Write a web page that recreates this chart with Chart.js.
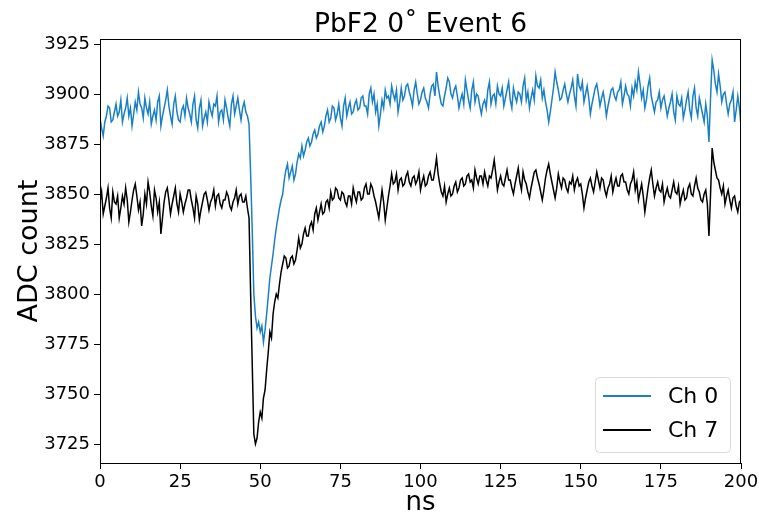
<!DOCTYPE html>
<html>
<head>
<meta charset="utf-8">
<script src="https://cdn.jsdelivr.net/npm/chart.js@4"></script>
<style>
  html, body { margin: 0; padding: 0; background: #fff; }
  #wrap { width: 759px; height: 516px; }
</style>
</head>
<body>
<div id="wrap"><canvas id="chart"></canvas></div>
<script>
// sample times, ns (0.5 ns steps)
var ns = Array.from({length: 401}, function (_, i) { return i / 2; });

// ADC counts, 10 samples (5 ns) per row
var ch0 = [
  3888,3883,3879,3886,3889,3894,3893,3886,3887,3891,
  3895,3889,3891,3897,3886,3890,3893,3898,3889,3893,
  3884,3890,3896,3892,3901,3895,3893,3888,3898,3893,
  3890,3896,3885,3889,3892,3887,3896,3899,3884,3889,
  3893,3897,3902,3894,3889,3885,3895,3899,3891,3887,
  3886,3892,3894,3889,3898,3893,3890,3886,3895,3899,
  3887,3883,3893,3897,3884,3888,3891,3886,3896,3892,
  3889,3895,3894,3899,3886,3891,3892,3887,3897,3893,
  3888,3884,3895,3899,3890,3894,3898,3892,3887,3893,
  3896,3891,3889,3885,3860,3832,3800,3789,3783,3786,
  3781,3784,3776,3782,3790,3799,3808,3814,3820,3827,
  3833,3838,3843,3847,3850,3857,3862,3865,3858,3861,
  3864,3857,3860,3866,3870,3868,3874,3869,3872,3876,
  3878,3874,3876,3880,3882,3878,3880,3884,3886,3881,
  3884,3889,3892,3886,3888,3894,3893,3887,3890,3895,
  3888,3884,3894,3898,3889,3893,3896,3890,3891,3895,
  3897,3892,3893,3898,3899,3894,3894,3890,3900,3903,
  3896,3900,3891,3895,3884,3890,3897,3893,3902,3898,
  3899,3895,3904,3900,3897,3902,3891,3896,3903,3897,
  3899,3904,3905,3901,3898,3894,3902,3906,3900,3895,
  3897,3901,3903,3898,3896,3893,3900,3904,3905,3899,
  3911,3904,3899,3895,3894,3899,3903,3908,3906,3900,
  3898,3902,3904,3899,3893,3897,3900,3895,3907,3902,
  3897,3893,3902,3906,3896,3900,3899,3894,3890,3895,
  3897,3893,3902,3906,3895,3899,3900,3895,3904,3900,
  3899,3903,3894,3898,3902,3906,3897,3893,3903,3899,
  3896,3901,3900,3896,3904,3908,3897,3901,3893,3898,
  3902,3897,3909,3904,3903,3907,3898,3902,3896,3892,
  3886,3891,3897,3903,3911,3906,3902,3897,3898,3902,
  3905,3900,3896,3900,3903,3907,3899,3894,3910,3904,
  3902,3906,3896,3900,3904,3898,3890,3895,3899,3903,
  3905,3900,3894,3898,3901,3896,3889,3894,3898,3902,
  3903,3899,3897,3901,3902,3906,3895,3899,3904,3900,
  3899,3894,3903,3899,3906,3902,3911,3905,3898,3902,
  3893,3897,3904,3908,3899,3895,3891,3896,3897,3901,
  3893,3897,3899,3894,3889,3893,3896,3900,3891,3887,
  3899,3895,3894,3898,3888,3892,3897,3901,3892,3888,
  3899,3903,3893,3889,3898,3894,3890,3886,3895,3889,
  3876,3898,3917,3912,3905,3901,3910,3904,3896,3900,
  3901,3895,3890,3895,3897,3901,3886,3892,3899,3893,
  3884
];

var ch7 = [
  3846,3851,3840,3844,3848,3853,3843,3838,3851,3846,
  3845,3849,3838,3843,3849,3845,3853,3847,3836,3841,
  3847,3852,3855,3849,3842,3846,3834,3840,3850,3845,
  3856,3851,3844,3839,3852,3848,3841,3846,3830,3838,
  3846,3851,3853,3847,3840,3845,3849,3853,3845,3841,
  3850,3846,3841,3845,3848,3852,3852,3847,3843,3838,
  3849,3845,3837,3842,3846,3850,3851,3847,3842,3846,
  3848,3852,3844,3849,3850,3845,3843,3847,3847,3851,
  3849,3844,3842,3846,3848,3852,3845,3849,3850,3846,
  3846,3849,3843,3838,3800,3765,3730,3725,3728,3736,
  3741,3738,3748,3752,3762,3771,3781,3778,3790,3796,
  3800,3798,3805,3811,3815,3819,3818,3813,3814,3818,
  3819,3815,3817,3822,3828,3823,3825,3830,3833,3829,
  3829,3834,3836,3832,3840,3843,3837,3841,3845,3840,
  3841,3846,3847,3843,3851,3847,3848,3853,3852,3848,
  3847,3851,3850,3846,3844,3849,3849,3845,3853,3849,
  3846,3851,3851,3847,3848,3853,3855,3850,3850,3855,
  3853,3849,3846,3842,3838,3845,3852,3846,3837,3843,
  3849,3854,3860,3855,3856,3860,3852,3857,3858,3854,
  3855,3859,3861,3856,3854,3858,3859,3855,3857,3861,
  3852,3856,3859,3854,3855,3859,3861,3857,3857,3862,
  3868,3860,3855,3851,3849,3854,3846,3850,3853,3849,
  3850,3854,3856,3851,3853,3857,3858,3854,3855,3859,
  3860,3856,3857,3853,3862,3858,3855,3859,3859,3855,
  3861,3857,3854,3859,3858,3862,3867,3860,3852,3856,
  3859,3855,3854,3858,3862,3857,3857,3853,3850,3855,
  3859,3863,3856,3852,3861,3857,3855,3851,3848,3853,
  3857,3861,3862,3858,3855,3851,3847,3852,3858,3862,
  3865,3860,3856,3852,3848,3853,3860,3856,3853,3858,
  3857,3853,3851,3856,3855,3859,3852,3856,3858,3854,
  3855,3850,3843,3848,3852,3856,3858,3854,3851,3856,
  3861,3857,3853,3858,3857,3852,3849,3853,3855,3859,
  3851,3855,3858,3854,3854,3859,3860,3856,3856,3852,
  3850,3855,3857,3861,3852,3856,3847,3851,3855,3849,
  3841,3847,3853,3858,3862,3855,3849,3853,3856,3852,
  3851,3855,3846,3850,3853,3849,3848,3852,3856,3851,
  3850,3854,3845,3849,3852,3847,3848,3853,3855,3850,
  3849,3854,3858,3853,3851,3847,3846,3850,3852,3845,
  3829,3850,3873,3866,3862,3858,3857,3853,3850,3854,
  3845,3849,3852,3847,3843,3848,3849,3844,3841,3846,
  3847
];

var xTicks = [0, 25, 50, 75, 100, 125, 150, 175, 200];
var yTicks = [3725, 3750, 3775, 3800, 3825, 3850, 3875, 3900, 3925];

var chartTitle = 'PbF2 0˚ Event 6';
var seriesNames = ['Ch 0', 'Ch 7'];
var seriesColors = ['#1a80c4', '#000000'];

function toPoints(ys) {
  return ys.map(function (y, i) { return {x: ns[i], y: y}; });
}

// title over the plot, frame round it and the legend inside it, like matplotlib
var frameAndLegend = {
  id: 'frameAndLegend',
  afterDraw: function (chart) {
    var ctx = chart.ctx, a = chart.chartArea;
    ctx.save();
    ctx.strokeStyle = '#000';
    ctx.lineWidth = 1;
    ctx.strokeRect(a.left + 0.5, a.top + 0.5, a.right - a.left - 1, a.bottom - a.top);

    ctx.fillStyle = '#000';
    ctx.font = '26.5px "DejaVu Sans"';
    ctx.textAlign = 'center';
    ctx.textBaseline = 'alphabetic';
    ctx.fillText(chartTitle, (a.left + a.right) / 2, a.top - 7);

    var bx = a.right - 146, by = a.bottom - 86, bw = 135, bh = 75, r = 4;
    ctx.fillStyle = 'rgba(255,255,255,0.85)';
    ctx.strokeStyle = '#d9d9d9';
    ctx.beginPath();
    ctx.roundRect(bx + 0.5, by + 0.5, bw, bh, r);
    ctx.fill();
    ctx.stroke();

    ctx.font = '22px "DejaVu Sans"';
    ctx.textAlign = 'left';
    ctx.textBaseline = 'middle';
    chart.data.datasets.forEach(function (ds, i) {
      var ly = by + 19 + i * 34;
      ctx.strokeStyle = ds.borderColor;
      ctx.lineWidth = 2;
      ctx.beginPath();
      ctx.moveTo(bx + 8, ly);
      ctx.lineTo(bx + 56, ly);
      ctx.stroke();
      ctx.fillStyle = '#000';
      ctx.fillText(ds.label, bx + 73, ly + 1);
    });
    ctx.restore();
  }
};

new Chart('chart', {
  type: 'line',
  data: {
    datasets: [
      {label: seriesNames[0], data: toPoints(ch0), borderColor: seriesColors[0], borderWidth: 1.5, pointRadius: 0, tension: 0},
      {label: seriesNames[1], data: toPoints(ch7), borderColor: seriesColors[1], borderWidth: 1.5, pointRadius: 0, tension: 0}
    ]
  },
  options: {
    responsive: true,
    maintainAspectRatio: false,
    animation: false,
    layout: {padding: {left: 0, right: 18, top: 39, bottom: 0}},
    plugins: {
      legend: {display: false},
      tooltip: {enabled: false},
      title: {display: false}
    },
    scales: {
      x: {
        type: 'linear',
        min: 0,
        max: 200,
        afterFit: function (s) { s.height = 53; s.paddingLeft = 0; s.paddingRight = 0; },
        afterBuildTicks: function (s) { s.ticks = xTicks.map(function (v) { return {value: v}; }); },
        grid: {drawOnChartArea: false, drawTicks: true, tickLength: 6, color: '#000'},
        border: {display: false},
        ticks: {color: '#000', font: {family: 'DejaVu Sans', size: 18}, padding: 3, maxRotation: 0},
        title: {display: true, text: 'ns', color: '#000', font: {family: 'DejaVu Sans', size: 26, lineHeight: 1.0}, padding: {top: 0, bottom: 0}}
      },
      y: {
        min: 3715.5,
        max: 3927.5,
        afterFit: function (s) { s.width = 100; },
        afterBuildTicks: function (s) { s.ticks = yTicks.map(function (v) { return {value: v}; }); },
        grid: {drawOnChartArea: false, drawTicks: true, tickLength: 6, color: '#000'},
        border: {display: false},
        ticks: {color: '#000', font: {family: 'DejaVu Sans', size: 18}, padding: 4, callback: function (v) { return String(v); }},
        title: {display: true, text: 'ADC count', color: '#000', font: {family: 'DejaVu Sans', size: 27}, padding: {top: 14, bottom: 0}}
      }
    }
  },
  plugins: [frameAndLegend]
});
</script>
</body>
</html>
